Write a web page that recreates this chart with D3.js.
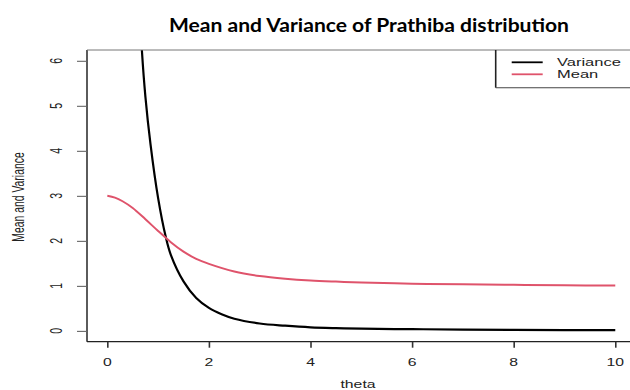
<!DOCTYPE html>
<html>
<head>
<meta charset="utf-8">
<script src="https://cdn.jsdelivr.net/npm/d3@7/dist/d3.min.js"></script>
<style>
  html, body { margin: 0; padding: 0; background: #fff; }
  svg { display: block; }
</style>
</head>
<body>
<div id="chart"></div>
<script>
// ---- data ----
const titleText = "Mean and Variance of Prathiba distribution";
const xLabel = "theta";
const yLabel = "Mean and Variance";
const seriesNames = ["Variance", "Mean"];
const seriesColors = ["#000000", "#DF536B"];
const xTicks = [0, 2, 4, 6, 8, 10];
const yTicks = [0, 1, 2, 3, 4, 5, 6];

const thetaMean = [0, 0.15, 0.3, 0.5, 0.75, 1, 1.25, 1.5, 1.75, 2, 2.5, 3, 3.5, 4, 4.5, 5, 6, 7, 8, 9, 10];
const meanValues = [3.00, 2.96, 2.88, 2.73, 2.48, 2.22, 1.97, 1.76, 1.60, 1.49, 1.32, 1.22, 1.16, 1.12, 1.095, 1.075, 1.048, 1.035, 1.024, 1.014, 1.006];

const thetaVar = [0.5, 0.6, 0.68, 0.75, 0.85, 1, 1.15, 1.25, 1.5, 1.75, 2, 2.25, 2.5, 3, 3.5, 4, 4.5, 5, 6, 7, 8, 9, 10];
const varValues = [11.5, 8.0, 6.24, 5.2, 4.15, 2.95, 2.09, 1.69, 1.10, 0.73, 0.51, 0.37, 0.27, 0.165, 0.115, 0.078, 0.060, 0.049, 0.038, 0.030, 0.023, 0.018, 0.015];

(function () {
// ---- layout ----
const W = 630, H = 390;
const pLeft = 87, pRight = 635.6, pTop = 50, pBottom = 341.7;
const stretch = 1.5;

const svg = d3.select("#chart").append("svg").attr("width", W).attr("height", H);

const x = d3.scaleLinear().domain([-0.4, 10.4]).range([pLeft, pRight]);
const y = d3.scaleLinear().domain([-0.24, 6.24]).range([pBottom, pTop]);

svg.append("defs").append("clipPath").attr("id", "clip")
  .append("rect").attr("x", pLeft).attr("y", pTop).attr("width", pRight - pLeft).attr("height", pBottom - pTop);

// title
svg.append("text")
  .attr("x", 169).attr("y", 32)
  .attr("font-family", "Lato, 'DejaVu Sans', sans-serif")
  .attr("font-weight", "bold").attr("font-size", 19)
  .attr("textLength", 400).attr("lengthAdjust", "spacingAndGlyphs")
  .attr("fill", "#000").text(titleText);

// lines
const lineGen = d3.line().x(d => x(d[0])).y(d => y(d[1])).curve(d3.curveCatmullRom.alpha(0.5));
const g = svg.append("g").attr("clip-path", "url(#clip)");
g.append("path").datum(thetaVar.map((t, i) => [t, varValues[i]]))
  .attr("d", lineGen).attr("fill", "none").attr("stroke", seriesColors[0]).attr("stroke-width", 2.2);
g.append("path").datum(thetaMean.map((t, i) => [t, meanValues[i]]))
  .attr("d", lineGen).attr("fill", "none").attr("stroke", seriesColors[1]).attr("stroke-width", 2);

// frame
svg.append("line").attr("x1", pLeft).attr("x2", pLeft).attr("y1", pTop).attr("y2", pBottom)
  .attr("stroke", "#333").attr("stroke-width", 1.6);
svg.append("line").attr("x1", pLeft).attr("x2", W).attr("y1", pBottom).attr("y2", pBottom)
  .attr("stroke", "#222").attr("stroke-width", 1.3);
svg.append("line").attr("x1", pLeft).attr("x2", W).attr("y1", pTop).attr("y2", pTop)
  .attr("stroke", "#777").attr("stroke-width", 1);

// x axis ticks
const xAxis = d3.axisBottom(x).tickValues(xTicks).tickSize(6).tickFormat("");
const gx = svg.append("g").attr("transform", `translate(0,${pBottom})`).call(xAxis);
gx.select(".domain").remove();
gx.selectAll(".tick line").attr("stroke", "#333").attr("stroke-width", 1.6);

svg.selectAll(".xlab").data(xTicks).enter().append("text")
  .attr("transform", d => `translate(${x(d)},366) scale(${stretch},1)`)
  .attr("text-anchor", "middle")
  .attr("font-family", "'Liberation Sans', Arial, sans-serif").attr("font-size", 10.5)
  .attr("fill", "#222").text(d => d);

// y axis ticks
const yAxis = d3.axisLeft(y).tickValues(yTicks).tickSize(10).tickFormat("");
const gy = svg.append("g").attr("transform", `translate(${pLeft},0)`).call(yAxis);
gy.select(".domain").remove();
gy.selectAll(".tick line").attr("stroke", "#666").attr("stroke-width", 1.1);

svg.selectAll(".ylab").data(yTicks).enter().append("text")
  .attr("transform", d => `translate(62,${y(d)}) rotate(-90) scale(1,${stretch})`)
  .attr("text-anchor", "middle")
  .attr("font-family", "'Liberation Sans', Arial, sans-serif").attr("font-size", 10.5)
  .attr("fill", "#222").text(d => d);

// axis titles
svg.append("text")
  .attr("transform", `translate(358,388) scale(${stretch},1)`)
  .attr("text-anchor", "middle")
  .attr("font-family", "'Liberation Sans', Arial, sans-serif").attr("font-size", 10.5)
  .attr("fill", "#222").text(xLabel);

svg.append("text")
  .attr("transform", `translate(24,197) rotate(-90) scale(1,${stretch})`)
  .attr("text-anchor", "middle")
  .attr("font-family", "'Liberation Sans', Arial, sans-serif").attr("font-size", 10.4)
  .attr("fill", "#222").text(yLabel);

// legend
const lx = 495.7, lb = 87.7;
svg.append("line").attr("x1", lx).attr("x2", lx).attr("y1", pTop).attr("y2", lb)
  .attr("stroke", "#222").attr("stroke-width", 1.6);
svg.append("line").attr("x1", lx).attr("x2", W).attr("y1", lb).attr("y2", lb)
  .attr("stroke", "#444").attr("stroke-width", 1.1);
const legY = [62.3, 74.3];
seriesNames.forEach((name, i) => {
  svg.append("line").attr("x1", 511.7).attr("x2", 542.7).attr("y1", legY[i]).attr("y2", legY[i])
    .attr("stroke", seriesColors[i]).attr("stroke-width", 1.8);
  svg.append("text")
    .attr("transform", `translate(557,${legY[i] + 4}) scale(${stretch},1)`)
    .attr("font-family", "'Liberation Sans', Arial, sans-serif").attr("font-size", 11)
    .attr("fill", "#222").text(name);
});
})();
</script>
</body>
</html>
